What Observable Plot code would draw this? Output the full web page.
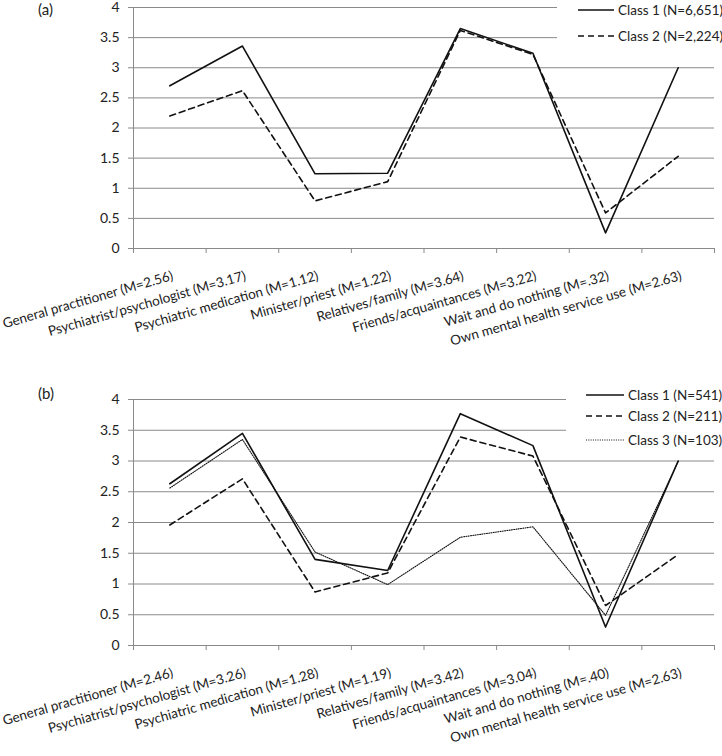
<!DOCTYPE html>
<html><head><meta charset="utf-8">
<script src="https://cdn.jsdelivr.net/npm/d3@7"></script>
<script src="https://cdn.jsdelivr.net/npm/@observablehq/plot@0.6"></script>
<style>
body{margin:0;background:#fff;font-family:Lato,"Open Sans",sans-serif;}
.panel{position:relative;width:722px;height:378px;overflow:hidden;}
.tag{position:absolute;left:38px;font-size:15px;color:#222;line-height:18px;}
svg{display:block;}
</style></head><body>
<div id="a" class="panel"><div class="tag" style="top:0px">(a)</div></div>
<div id="b" class="panel"><div class="tag" style="top:6px">(b)</div></div>
<script>
// ---- data ----
const categoriesA = ["General practitioner (M=2.56)", "Psychiatrist/psychologist (M=3.17)", "Psychiatric medication (M=1.12)", "Minister/priest (M=1.22)", "Relatives/family (M=3.64)", "Friends/acquaintances (M=3.22)", "Wait and do nothing (M=.32)", "Own mental health service use (M=2.63)"];
const categoriesB = ["General practitioner (M=2.46)", "Psychiatrist/psychologist (M=3.26)", "Psychiatric medication (M=1.28)", "Minister/priest (M=1.19)", "Relatives/family (M=3.42)", "Friends/acquaintances (M=3.04)", "Wait and do nothing (M=.40)", "Own mental health service use (M=2.63)"];
const a_class1 = [2.70, 3.36, 1.24, 1.25, 3.65, 3.24, 0.26, 3.00];
const a_class2 = [2.20, 2.62, 0.79, 1.11, 3.62, 3.22, 0.59, 1.53];
const b_class1 = [2.63, 3.45, 1.40, 1.22, 3.77, 3.25, 0.30, 3.00];
const b_class2 = [1.96, 2.71, 0.87, 1.18, 3.39, 3.08, 0.65, 1.48];
const b_class3 = [2.56, 3.35, 1.52, 0.99, 1.76, 1.93, 0.49, 2.99];
const legendA = ["Class 1 (N=6,651)", "Class 2 (N=2,224)"];
const legendB = ["Class 1 (N=541)", "Class 2 (N=211)", "Class 3 (N=103)"];
const yTicks = [0, 0.5, 1, 1.5, 2, 2.5, 3, 3.5, 4];

const styles = [
  {dash: null, width: 1.6},
  {dash: "6,4", width: 1.6},
  {dash: "1,1.3", width: 1.1}
];
const GRID = "#8a8a8a";
const FONT = "Lato, 'Open Sans', sans-serif";

function panel(el, cats, series, legend, m, leg) {
  const labels = cats.map((c, i) => ({label: c, x: i + 0.5}));
  const marks = [
    Plot.ruleY(yTicks, {stroke: GRID, strokeWidth: 1}),
    Plot.ruleX([0], {stroke: GRID}),
    Plot.axisY({ticks: yTicks, tickFormat: d => String(d), tickSize: 5, stroke: GRID, tickPadding: 9, fontSize: 14, fill: "#222", label: null}),
    Plot.axisX({ticks: d3.range(0, 9), tickFormat: () => "", tickSize: 5, stroke: GRID, label: null}),
    Plot.text(labels, {x: "x", y: () => 0, text: "label", rotate: -16, textAnchor: "end", lineAnchor: "middle", dy: 27, dx: 3, fontSize: 13.5, fill: "#222"})
  ];
  series.forEach((vals, k) => {
    marks.push(Plot.line(vals.map((v, i) => ({x: i + 0.5, y: v})), {x: "x", y: "y", stroke: "#111", strokeWidth: styles[k].width, strokeDasharray: styles[k].dash}));
  });
  const svg = Plot.plot({
    width: 722, height: 378,
    marginTop: m.top, marginBottom: m.bottom, marginLeft: 133, marginRight: 8,
    style: {fontFamily: FONT, fontSize: "13px", background: "transparent", overflow: "visible"},
    x: {type: "linear", domain: [0, 8], axis: null},
    y: {domain: [0, 4], axis: null},
    marks
  });
  el.appendChild(svg);
  const g = d3.select(svg).append("g");
  g.append("rect").attr("x", leg.rectX).attr("y", 0).attr("width", 722 - leg.rectX).attr("height", leg.rectH).attr("fill", "#fff");
  legend.forEach((t, k) => {
    const y = leg.ys[k];
    g.append("line").attr("x1", leg.x1).attr("x2", leg.x2).attr("y1", y).attr("y2", y)
      .attr("stroke", "#111").attr("stroke-width", styles[k].width).attr("stroke-dasharray", styles[k].dash);
    g.append("text").attr("x", leg.x2 + 4).attr("y", y).attr("dy", "0.35em")
      .attr("text-anchor", "start")
      .attr("font-size", 13.5).attr("fill", "#222").attr("font-family", FONT).text(t);
  });
}

panel(document.getElementById("a"), categoriesA, [a_class1, a_class2], legendA,
  {top: 7, bottom: 130}, {rectX: 557, rectH: 50, x1: 578, x2: 614, ys: [10, 36]});
panel(document.getElementById("b"), categoriesB, [b_class1, b_class2, b_class3], legendB,
  {top: 21, bottom: 111}, {rectX: 566, rectH: 76, x1: 586, x2: 624, ys: [17, 38, 62]});
</script>
</body></html>
